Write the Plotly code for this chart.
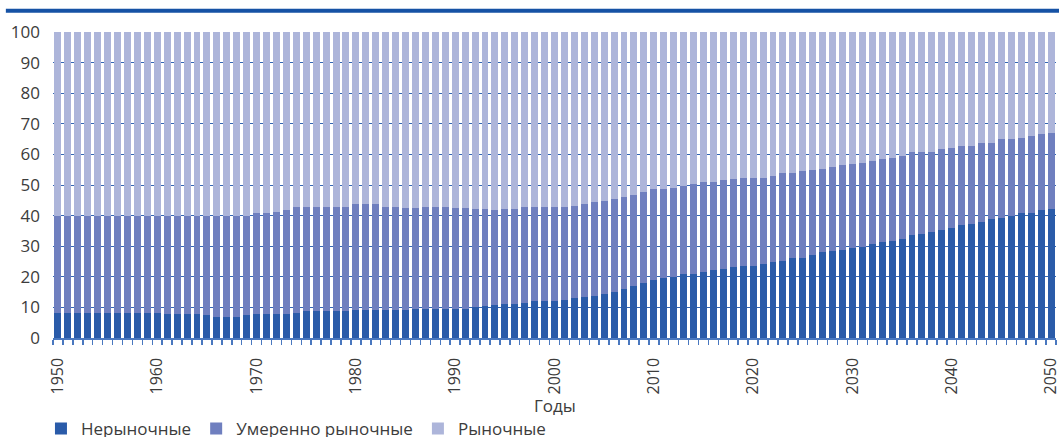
import plotly.graph_objects as go

years = list(range(1950, 2051))

# Нерыночные (share, %)
non_market = [
    8.3, 8.3, 8.3, 8.3, 8.3, 8.3, 8.3, 8.3, 8.3, 8.3,   # 1950-1959
    8.3, 8.0, 8.0, 7.7, 7.7, 7.4, 7.0, 7.0, 7.0, 7.4,   # 1960-1969
    8.0, 8.0, 8.0, 8.0, 8.3, 8.7, 8.7, 8.7, 8.7, 8.7,   # 1970-1979
    9.3, 9.0, 9.3, 9.3, 9.2, 9.2, 9.5, 9.5, 9.5, 9.5,   # 1980-1989
    9.5, 9.5, 10.2, 10.5, 10.9, 11.2, 11.2, 11.5, 12.2, 12.2,  # 1990-1999
    12.2, 12.5, 13.1, 13.5, 13.8, 14.4, 15.1, 16.1, 17.1, 18.0,  # 2000-2009
    19.0, 19.7, 20.0, 21.0, 21.0, 21.6, 22.3, 22.6, 23.3, 23.6,  # 2010-2019
    23.6, 24.2, 24.9, 25.2, 26.2, 26.2, 27.2, 28.1, 28.5, 28.8,  # 2020-2029
    29.5, 29.8, 30.8, 31.4, 31.7, 32.4, 33.7, 34.0, 34.7, 35.3,  # 2030-2039
    36.0, 36.9, 37.3, 37.9, 38.9, 39.2, 39.9, 40.9, 40.9, 41.9,  # 2040-2049
    42.2,                                                        # 2050
]

# Нерыночные + Умеренно рыночные (cumulative share, %)
non_plus_moderate = [
    40.0, 40.0, 40.0, 40.0, 40.0, 40.0, 40.0, 40.0, 40.0, 40.0,  # 1950-1959
    40.0, 40.0, 40.0, 40.0, 40.0, 40.0, 40.0, 40.0, 40.0, 40.0,  # 1960-1969
    40.9, 40.9, 41.2, 41.9, 42.8, 42.8, 42.8, 42.8, 42.8, 42.8,  # 1970-1979
    43.8, 43.8, 43.8, 42.8, 42.8, 42.5, 42.5, 42.8, 42.8, 42.8,  # 1980-1989
    42.5, 42.5, 42.2, 42.2, 41.8, 42.2, 42.2, 42.8, 42.8, 42.8,  # 1990-1999
    42.8, 42.8, 43.1, 43.8, 44.5, 44.8, 45.4, 46.1, 46.7, 47.7,  # 2000-2009
    48.7, 48.7, 49.0, 49.7, 50.3, 51.0, 51.0, 51.6, 52.0, 52.3,  # 2010-2019
    52.3, 52.3, 52.9, 53.9, 53.9, 54.6, 54.9, 55.2, 55.9, 56.5,  # 2020-2029
    56.8, 57.2, 57.8, 58.5, 58.8, 59.5, 60.8, 60.8, 60.8, 61.7,  # 2030-2039
    62.1, 62.7, 62.7, 63.7, 63.7, 65.0, 65.0, 65.3, 66.0, 66.6,  # 2040-2049
    67.0,                                                        # 2050
]

moderate = [round(c - n, 1) for c, n in zip(non_plus_moderate, non_market)]
market = [round(100 - c, 1) for c in non_plus_moderate]

x_tick_vals = list(range(1950, 2051, 10))
y_tick_vals = list(range(0, 101, 10))

names = ["Нерыночные", "Умеренно рыночные", "Рыночные"]
colors = ["#2a5ba9", "#6f7fbf", "#adb5da"]
x_title = "Годы"

font_family = "Open Sans, Noto Sans, DejaVu Sans, sans-serif"
text_color = "#3c3c3c"

fig = go.Figure()
for name, vals, col in zip(names, [non_market, moderate, market], colors):
    fig.add_trace(go.Bar(x=years, y=vals, name=name, marker=dict(color=col, line=dict(width=0))))

fig.update_layout(
    width=1059, height=437,
    barmode="stack", bargap=0.3,
    paper_bgcolor="white", plot_bgcolor="white",
    margin=dict(l=53, r=3, t=32, b=99, autoexpand=False),
    font=dict(family=font_family, size=17, color=text_color),
    showlegend=True,
    legend=dict(orientation="h", x=-0.012, xanchor="left", y=-0.238, yanchor="top",
                font=dict(size=17, color=text_color), itemwidth=30,
                traceorder="normal", bgcolor="rgba(0,0,0,0)"),
    xaxis=dict(
        range=[1949.5, 2050.5], tickmode="array", tickvals=x_tick_vals,
        tickangle=-90, ticks="", showgrid=False, zeroline=False,
        showline=True, linecolor="#4a78bf", linewidth=1.5,
        ticklabelstandoff=12, automargin=False, ticklabeloverflow="allow",
        tickfont=dict(size=16, color=text_color),
        minor=dict(tick0=1949.5, dtick=1, ticks="outside", ticklen=5,
                   tickcolor="#4a78bf", tickwidth=1.5, showgrid=False),
        fixedrange=True,
    ),
    yaxis=dict(
        range=[0, 100], tickmode="array", tickvals=y_tick_vals,
        showgrid=True, gridcolor="#3366b3", gridwidth=1, zeroline=False,
        ticks="", ticklabelstandoff=12, showline=False, fixedrange=True,
        automargin=False, tickfont=dict(size=17, color=text_color),
    ),
)

fig.add_annotation(text=x_title, xref="paper", yref="paper", x=0.5, y=-0.221,
                   xanchor="center", yanchor="middle", showarrow=False,
                   font=dict(size=17, color=text_color))

# decorative top rule
fig.add_shape(type="rect", xref="paper", yref="paper",
              x0=-0.047, x1=1.003, y0=1.0626, y1=1.0757,
              fillcolor="#1652a5", line=dict(width=0), layer="above")

# remove the default page margin so the figure fills the window exactly
fig.write_html("out.html",
               config={"displayModeBar": False, "staticPlot": True},
               post_script="document.body.style.margin='0';document.body.style.overflow='hidden';")
